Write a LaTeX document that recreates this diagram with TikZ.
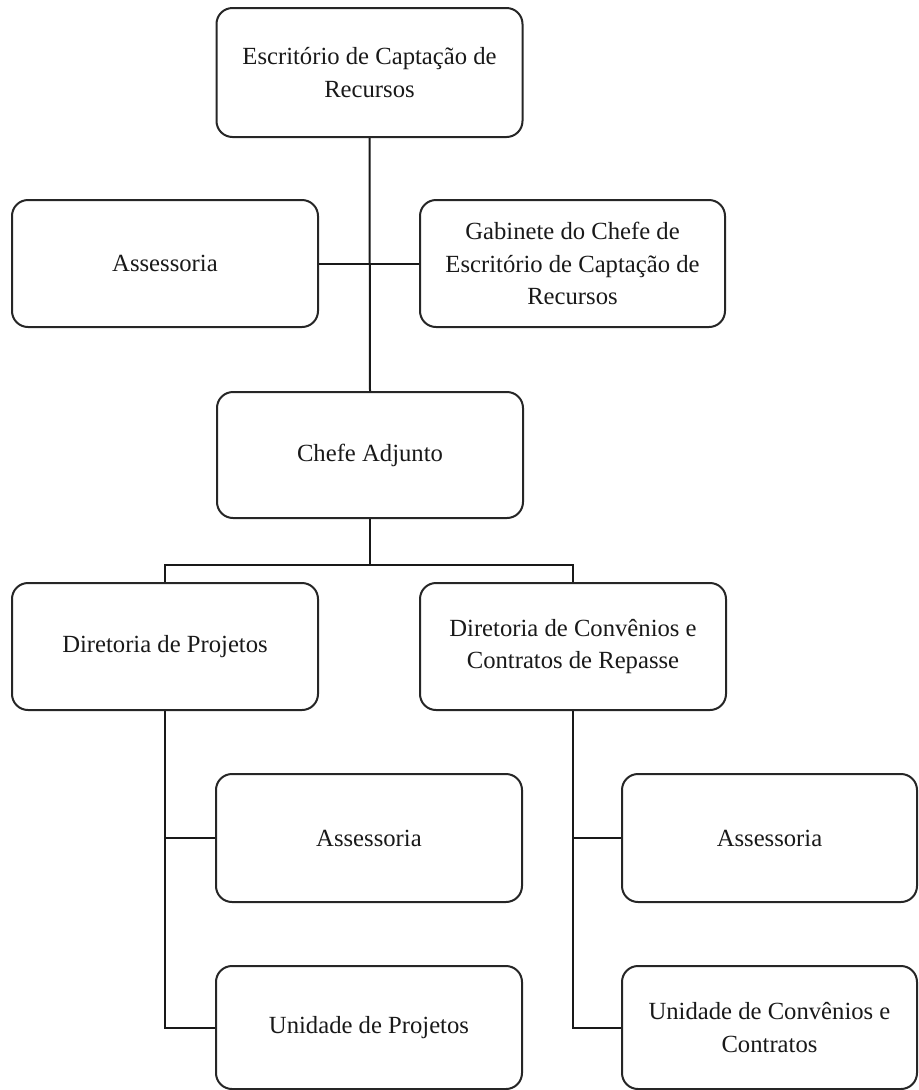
\documentclass[tikz,border=0pt]{standalone}
\usepackage{fontspec}
\setmainfont{Liberation Serif}
\begin{document}
\begin{tikzpicture}[x=0.75pt,y=-0.75pt,
  box/.style={draw=black!85,line width=1.5pt,rounded corners=12pt,align=center,
    font=\fontsize{18.5}{24.5}\selectfont,text=black!90,inner sep=0pt},
  conn/.style={draw=black!90,line width=1.5pt}]
\useasboundingbox (0,0) rectangle (919,1090);
\node[box,minimum width=229.5pt,minimum height=96.75pt] (top) at (369.5,72.5) {Escritório de Captação de\\Recursos};
\node[box,minimum width=229.5pt,minimum height=95.25pt] (ass1) at (165,263.5) {Assessoria};
\node[box,minimum width=228.75pt,minimum height=95.25pt] (gab) at (572.5,263.5) {Gabinete do Chefe de\\Escritório de Captação de\\Recursos};
\node[box,minimum width=229.5pt,minimum height=94.5pt] (chefe) at (370,455) {Chefe Adjunto};
\node[box,minimum width=229.5pt,minimum height=95.25pt] (dirP) at (165,646.5) {Diretoria de Projetos};
\node[box,minimum width=229.5pt,minimum height=95.25pt] (dirC) at (573,646.5) {Diretoria de Convênios e\\Contratos de Repasse};
\node[box,minimum width=229.5pt,minimum height=96pt] (ass2) at (369,838) {Assessoria};
\node[box,minimum width=229.5pt,minimum height=92.25pt] (unP) at (369,1027.5) {Unidade de Projetos};
\node[box,minimum width=221.25pt,minimum height=96pt] (ass3) at (769.5,838) {Assessoria};
\node[box,minimum width=221.25pt,minimum height=92.25pt] (unC) at (769.5,1027.5) {Unidade de Convênios e\\Contratos};
\coordinate (bus) at (370,565);
\draw[conn] (top.south) -- (chefe.north);
\draw[conn] (ass1.east) -- (gab.west);
\draw[conn] (chefe.south) -- (bus);
\draw[conn] (dirP.north) |- (bus) -| (dirC.north);
\draw[conn] (dirP.south) |- (unP.west);
\draw[conn] (dirP.south |- ass2.west) -- (ass2.west);
\draw[conn] (dirC.south) |- (unC.west);
\draw[conn] (dirC.south |- ass3.west) -- (ass3.west);
\end{tikzpicture}
\end{document}
